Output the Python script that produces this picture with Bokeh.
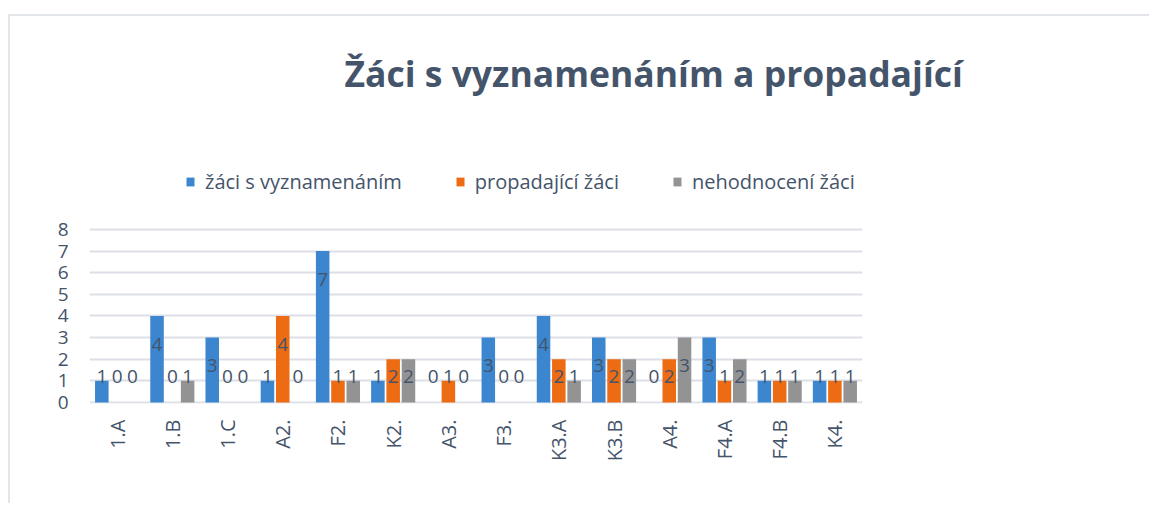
import math
from bokeh.plotting import figure
from bokeh.models import ColumnDataSource, FactorRange, Range1d, Legend, LegendItem, FixedTicker
from bokeh.transform import dodge
from bokeh.core.properties import value
from bokeh.embed import file_html
from bokeh.resources import INLINE

# ---- data ----
classes = ["1.A", "1.B", "1.C", "A2.", "F2.", "K2.", "A3.", "F3.", "K3.A", "K3.B", "A4.", "F4.A", "F4.B", "K4."]
honours = [1, 4, 3, 1, 7, 1, 0, 3, 4, 3, 0, 3, 1, 1]
failing = [0, 0, 0, 4, 1, 2, 1, 0, 2, 2, 2, 1, 1, 1]
unassessed = [0, 1, 0, 0, 1, 2, 0, 0, 1, 2, 3, 2, 1, 1]
series_names = ["žáci s vyznamenáním", "propadající žáci", "nehodnocení žáci"]
title_text = "Žáci s vyznamenáním a propadající"
y_ticks = [0, 1, 2, 3, 4, 5, 6, 7, 8]

colors = ["#3b86cf", "#ed6b12", "#939393"]
text_color = "#44546a"
FONT = "Open Sans"

W, H = 1141, 489
p = figure(x_range=FactorRange(*classes, range_padding=0), y_range=Range1d(-0.05, 12.76),
           width=W, height=H, output_backend="svg", toolbar_location=None,
           min_border_left=79, min_border_right=289, min_border_top=110, min_border_bottom=102)
p.margin = (14, 0, 0, 8)
p.styles = {"border-left": "2px solid #e2e5e9", "border-top": "2px solid #e2e5e9"}
p.outline_line_color = None
p.background_fill_color = "white"
p.border_fill_color = "white"

src = ColumnDataSource(dict(x=classes, a=honours, b=failing, c=unassessed,
                            la=[max(v - 1.3, 1.22) for v in honours],
                            lb=[max(v - 1.3, 1.22) for v in failing],
                            lc=[max(v - 1.3, 1.22) for v in unassessed],
                            ta=[str(v) for v in honours],
                            tb=[str(v) for v in failing],
                            tc=[str(v) for v in unassessed]))

offs = [-0.277, 0.0, 0.277]
renderers = []
for key, lkey, tkey, off, col in zip(["a", "b", "c"], ["la", "lb", "lc"], ["ta", "tb", "tc"], offs, colors):
    r = p.vbar(x=dodge("x", off, range=p.x_range), top=key, width=0.245, source=src,
               fill_color=col, line_color=None)
    renderers.append(r)
    p.text(x=dodge("x", off, range=p.x_range), y=lkey, text=tkey, source=src,
           text_align="center", text_baseline="middle", text_font=value(FONT),
           text_font_size="19px", text_color=text_color)

# axes
p.yaxis.ticker = FixedTicker(ticks=y_ticks)
p.yaxis.axis_line_color = None
p.yaxis.major_tick_line_color = None
p.yaxis.minor_tick_line_color = None
p.yaxis.major_label_standoff = 15
p.yaxis.major_label_text_font = FONT
p.yaxis.major_label_text_font_size = "19px"
p.yaxis.major_label_text_color = text_color

p.xaxis.axis_line_color = None
p.xaxis.major_tick_line_color = None
p.xaxis.major_label_orientation = math.pi / 2
p.xaxis.major_label_standoff = 10
p.xaxis.major_label_text_font = FONT
p.xaxis.major_label_text_font_size = "20px"
p.xaxis.major_label_text_color = text_color

p.xgrid.grid_line_color = None
p.ygrid.grid_line_color = "#dce0e6"
p.ygrid.grid_line_width = 2

# title
p.title.text = title_text
p.title.align = "left"
p.title.offset = 255
p.title.standoff = 60
p.title.text_font = FONT
p.title.text_font_style = "bold"
p.title.text_font_size = "35.5px"
p.title.text_color = text_color

legend = Legend(items=[LegendItem(label=n, renderers=[r]) for n, r in zip(series_names, renderers)],
                orientation="horizontal", location=(96, 208), padding=0, margin=0,
                spacing=53, label_standoff=10, glyph_width=10, glyph_height=11,
                label_text_font=FONT, label_text_font_size="20px", label_text_color=text_color,
                border_line_color=None, background_fill_alpha=0)
p.add_layout(legend, "center")

open("out.html", "w").write(file_html(p, INLINE))
